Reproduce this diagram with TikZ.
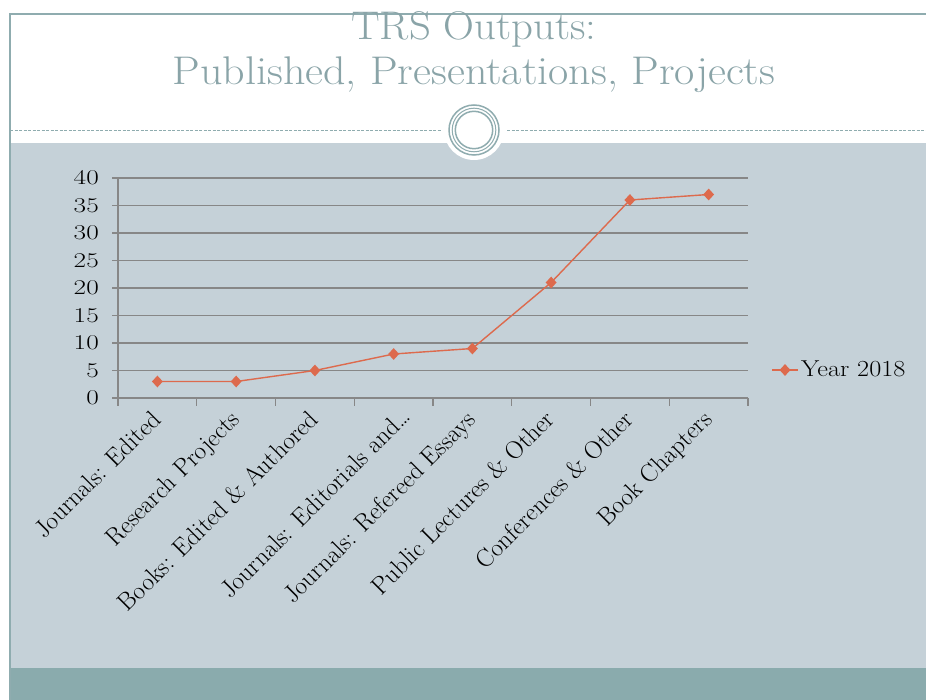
\documentclass[tikz,border=0pt]{standalone}
\usepackage{fontspec}
\usetikzlibrary{shapes.geometric}
\definecolor{frame}{RGB}{143,172,175}
\definecolor{paneback}{RGB}{197,209,216}
\definecolor{barteal}{RGB}{138,171,173}
\definecolor{titlec}{RGB}{138,164,168}
\definecolor{gridc}{RGB}{135,135,135}
\definecolor{datac}{RGB}{221,106,77}
\tikzset{
  gridline/.style={draw=gridc, line width=1.4pt},
  dataline/.style={draw=datac, line width=1.4pt},
  mk/.style={diamond, fill=datac, inner sep=0pt, minimum width=11pt, minimum height=12pt},
  catlabel/.style={rotate=45, anchor=base east, inner sep=0pt, font=\fontsize{25}{28}\selectfont},
  ylabel/.style={anchor=east, inner sep=0pt, font=\fontsize{21}{24}\selectfont},
  titletext/.style={text=titlec, font=\fontsize{40}{46}\selectfont, inner sep=0pt, anchor=base},
}
\begin{document}
\begin{tikzpicture}[x=1pt,y=-1pt]
\useasboundingbox (0,0) rectangle (926,700);
\fill[white] (0,0) rectangle (926,700);
% panes
\fill[paneback] (11,143) rectangle (926,668);
\fill[barteal] (11,668) rectangle (926,700);
\draw[frame, line width=2pt] (10,700) -- (10,14) -- (926,14);
% dashed separator
\draw[frame, line width=1pt, dash pattern=on 3pt off 1.5pt] (10,131) -- (442,131);
\draw[frame, line width=1pt, dash pattern=on 3pt off 1.5pt] (507,131) -- (926,131);
% ornament
\fill[white] (474,130) circle (30);
\draw[frame, line width=1.5pt] (474,130) circle (25);
\draw[frame, line width=1pt] (474,130) circle (21.8);
\draw[frame, line width=1.5pt] (474,130) circle (18.7);
% title
\node[titletext] (t1) at (474,40) {\scalebox{1.07}[1]{TRS Outputs:}};
\node[titletext] (t2) at (474,85) {\scalebox{1.1}[1]{Published, Presentations, Projects}};
% grid
\foreach \v in {0,5,...,40} {
  \draw[gridline] (112,{398-5.5*\v}) -- (748,{398-5.5*\v});
  \node[ylabel] (y\v) at (99,{398-5.5*\v}) {\scalebox{1.3}[1]{\v}};
}
\draw[gridline] (118,178) -- (118,398);
\foreach \k in {0,...,8} {
  \draw[gridline] ({118+78.75*\k},398) -- ({118+78.75*\k},406);
}
% data
\foreach \k/\v in {1/3,2/3,3/5,4/8,5/9,6/21,7/36,8/37} {
  \coordinate (c\k) at ({157.4+78.75*(\k-1)},{398-5.5*\v});
}
\draw[dataline] (c1) -- (c2) -- (c3) -- (c4) -- (c5) -- (c6) -- (c7) -- (c8);
\foreach \k in {1,...,8} { \node[mk] (m\k) at (c\k) {}; }
% category labels
\foreach \k/\t in {1/{Journals: Edited},2/{Research Projects},3/{Books: Edited \& Authored},5/{Journals: Refereed Essays},6/{Public Lectures \& Other},7/{Conferences \& Other},8/{Book Chapters}} {
  \node[catlabel] (l\k) at ({157.4+78.75*(\k-1)+5},421) {\t};
}
\node[catlabel] (l4) at (412,418) {Journals: Editorials and…};
% legend
\coordinate (la) at (772,370);
\coordinate (lb) at (798,370);
\draw[dataline] (la) -- (lb);
\node[mk] (lm) at (785,370) {};
\node[anchor=base west, inner sep=0pt, font=\fontsize{23}{26}\selectfont] (leg) at (801,377) {\scalebox{1.14}[1]{Year \oldstylenums{2018}}};
\end{tikzpicture}
\end{document}
